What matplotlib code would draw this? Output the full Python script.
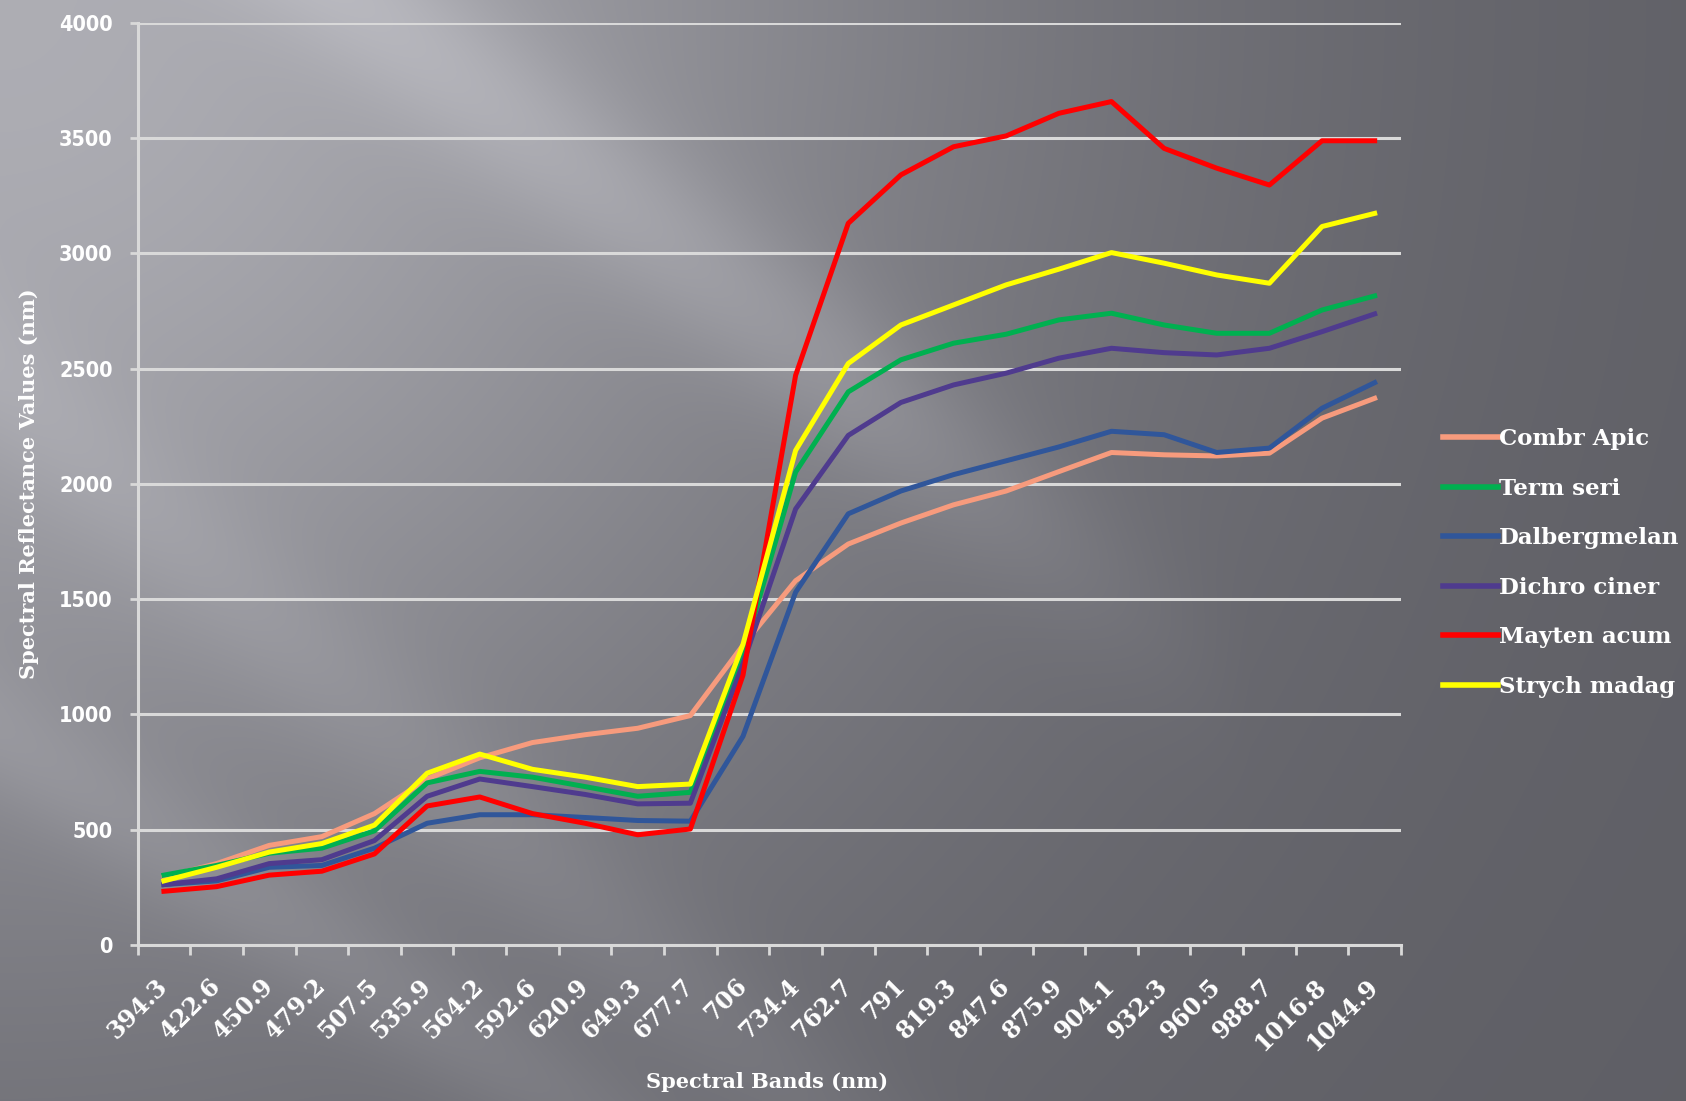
import matplotlib.pyplot as plt
import numpy as np

bands = ["394.3", "422.6", "450.9", "479.2", "507.5", "535.9", "564.2", "592.6",
         "620.9", "649.3", "677.7", "706", "734.4", "762.7", "791", "819.3",
         "847.6", "875.9", "904.1", "932.3", "960.5", "988.7", "1016.8", "1044.9"]

combr_apic = [295, 353, 432, 470, 570, 720, 812, 878, 912, 940, 995, 1300,
              1580, 1739, 1830, 1909, 1969, 2053, 2136, 2126, 2121, 2133, 2285, 2371]
term_seri = [303, 345, 398, 420, 495, 703, 753, 728, 687, 645, 662, 1260,
             2051, 2399, 2538, 2610, 2649, 2711, 2740, 2689, 2653, 2653, 2754, 2815]
dalberg_melan = [262, 278, 337, 345, 420, 528, 565, 565, 553, 540, 537, 905,
                 1530, 1870, 1969, 2040, 2100, 2160, 2228, 2213, 2136, 2155, 2328, 2439]
dichro_ciner = [262, 287, 353, 370, 453, 645, 720, 687, 653, 612, 615, 1220,
                1891, 2210, 2353, 2429, 2480, 2545, 2588, 2569, 2559, 2588, 2660, 2737]
mayten_acum = [233, 253, 303, 320, 395, 603, 642, 570, 528, 478, 503, 1170,
               2471, 3130, 3340, 3462, 3509, 3607, 3658, 3455, 3369, 3296, 3488, 3488]
strych_madag = [278, 337, 403, 440, 520, 745, 828, 762, 728, 687, 698, 1304,
                2145, 2522, 2689, 2776, 2863, 2931, 3003, 2957, 2906, 2870, 3116, 3173]

series = [("Combr Apic", combr_apic, "#f79b7d"),
          ("Term seri", term_seri, "#00b050"),
          ("Dalbergmelan", dalberg_melan, "#30569a"),
          ("Dichro ciner", dichro_ciner, "#4f3b8e"),
          ("Mayten acum", mayten_acum, "#ff0000"),
          ("Strych madag", strych_madag, "#ffff00")]

W, H = 1686, 1101
fig = plt.figure(figsize=(W / 100, H / 100), dpi=100)

# slate backdrop: light upper-left fading to dark grey, with soft diagonal streaks
yy, xx = np.mgrid[0:H, 0:W].astype(float)
u, v = xx / W, yy / H
r = np.sqrt(u ** 2 + (0.65 * v) ** 2)
g = 0.37 + 0.31 * np.exp(-(r / 0.58) ** 2)
fade = np.clip((1250 - xx) / 400, 0, 1)
d1 = ((xx - 400) * 0.78 - (yy - 30)) / np.sqrt(1 + 0.78 ** 2)
g += 0.08 * fade * np.exp(-(d1 / 75) ** 2)
d2 = ((xx - 160) * 0.65 - (yy - 840)) / np.sqrt(1 + 0.65 ** 2)
g += 0.05 * fade * np.exp(-(d2 / 60) ** 2)
d3 = ((xx - 0) * 0.9 - (yy - 380)) / np.sqrt(1 + 0.9 ** 2)
g += 0.04 * np.exp(-(d3 / 70) ** 2)
bg = np.dstack([g, g, g + 0.025]).clip(0, 1)
bax = fig.add_axes([0, 0, 1, 1], zorder=-1)
bax.imshow(bg, aspect="auto", interpolation="bilinear")
bax.axis("off")

ax = fig.add_axes([137.6 / W, 1 - 945 / H, (1401 - 137.6) / W, (945 - 22.7) / H])
ax.patch.set_alpha(0)

x = np.arange(len(bands))
for name, vals, col in series:
    ax.plot(x, vals, color=col, lw=3.6, label=name, solid_joinstyle="round", zorder=3)

grid_col = "#d9d9d9"
ax.set_xlim(-0.5, len(bands) - 0.5)
ax.set_ylim(0, 4000)
ax.set_yticks(np.arange(0, 4001, 500))
ax.yaxis.grid(True, color=grid_col, lw=2.2)
ax.set_axisbelow(True)
for s in ["top", "right"]:
    ax.spines[s].set_visible(False)
for s in ["left", "bottom"]:
    ax.spines[s].set_color(grid_col)
    ax.spines[s].set_linewidth(2.2)

ax.set_xticks(x)
ax.set_xticklabels(bands, rotation=45, ha="right", va="center", rotation_mode="anchor",
                   family="DejaVu Serif", fontweight="bold", fontsize=17, color="white")
ax.tick_params(axis="x", which="major", length=0, pad=27)
ax.set_xticks(np.arange(-0.5, len(bands)), minor=True)
ax.tick_params(axis="x", which="minor", length=7, width=2, color=grid_col, direction="out")
ax.tick_params(axis="y", length=6, width=2, color=grid_col, pad=12,
               labelsize=15.5, labelcolor="white")
for t in ax.get_yticklabels():
    t.set_fontweight("bold")
    t.set_fontstretch("condensed")

ax.set_xlabel("Spectral Bands (nm)", family="DejaVu Serif", fontweight="bold",
              fontsize=15, color="white")
ax.xaxis.set_label_coords((767 - 137.6) / (1401 - 137.6), -(1072 - 945) / (945 - 22.7))
ax.set_ylabel("Spectral Reflectance Values (nm)", family="DejaVu Serif",
              fontweight="bold", fontsize=15, color="white")
ax.yaxis.set_label_coords(-(137.6 - 39) / (1401 - 137.6), (945 - 484) / (945 - 22.7))

leg = fig.legend(loc="center left", bbox_to_anchor=(1443 / W, 1 - 563 / H),
                 frameon=False, handlelength=2.4, handletextpad=0.05,
                 labelspacing=1.2, borderpad=0, borderaxespad=0,
                 prop={"family": "DejaVu Serif", "weight": "bold", "size": 16.5})
for t in leg.get_texts():
    t.set_color("white")
for h in leg.legend_handles:
    h.set_linewidth(4)

fig.savefig("out.png", dpi=100)
